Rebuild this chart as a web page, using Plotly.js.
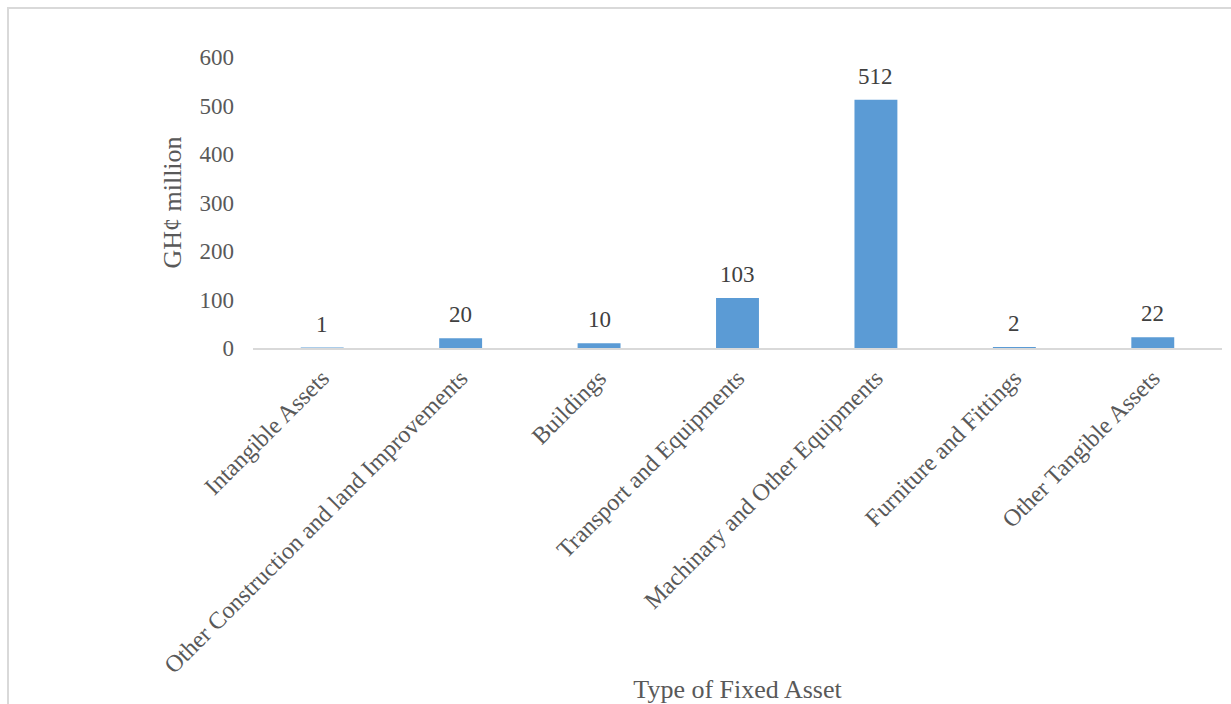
<!DOCTYPE html>
<html>
<head>
<meta charset="utf-8">
<script src="https://cdn.plot.ly/plotly-3.0.1.min.js"></script>
<style>
  html, body { margin: 0; padding: 0; background: #fff; }
  #wrap { position: relative; width: 1231px; height: 704px; overflow: hidden; }
  #frame { position: absolute; left: 7px; top: 7px; width: 1300px; height: 800px;
           border-left: 2px solid #D9D9D9; border-top: 2px solid #D9D9D9; pointer-events: none; }
  #chart { position: absolute; left: 0; top: 0; width: 1231px; height: 704px; }
</style>
</head>
<body>
<div id="wrap">
  <div id="chart"></div>
  <div id="frame"></div>
</div>
<script>
const categories = [
  "Intangible Assets",
  "Other Construction and land Improvements",
  "Buildings",
  "Transport and Equipments",
  "Machinary and Other Equipments",
  "Furniture and Fittings",
  "Other Tangible Assets"
];
const values = [1, 20, 10, 103, 512, 2, 22];
const yTicks = [0, 100, 200, 300, 400, 500, 600];

const serif = "'Liberation Serif', 'Times New Roman', serif";

const trace = {
  type: 'bar',
  x: categories,
  y: values,
  marker: { color: '#5B9BD5' },
  hoverinfo: 'skip'
};

const annotations = categories.map((c, i) => ({
  x: c,
  y: values[i],
  xref: 'x',
  yref: 'y',
  text: String(values[i]),
  showarrow: false,
  yanchor: 'bottom',
  yshift: 9,
  font: { family: serif, size: 23, color: '#404040' }
}));

const layout = {
  width: 1231,
  height: 704,
  margin: { l: 253, r: 9, t: 57, b: 356 },
  paper_bgcolor: '#ffffff',
  plot_bgcolor: '#ffffff',
  showlegend: false,
  bargap: 0.69,
  font: { family: serif, size: 23, color: '#595959' },
  xaxis: {
    type: 'category',
    tickangle: -45,
    showgrid: false,
    zeroline: false,
    showline: true,
    linecolor: '#D9D9D9',
    linewidth: 1.5,
    ticks: '',
    ticklabelstandoff: 5,
    tickfont: { family: serif, size: 24, color: '#595959' },
    automargin: false,
    title: {
      text: 'Type of Fixed Asset',
      font: { family: serif, size: 26, color: '#595959' },
      standoff: 16
    }
  },
  yaxis: {
    range: [0, 600],
    tickvals: yTicks,
    ticktext: yTicks.map(String),
    showgrid: false,
    zeroline: false,
    showline: false,
    ticks: '',
    ticklabelstandoff: 18,
    tickfont: { family: serif, size: 23, color: '#595959' },
    automargin: false,
    title: {
      text: 'GH¢ million',
      font: { family: serif, size: 26, color: '#595959' },
      standoff: 10
    }
  },
  annotations: annotations
};

Plotly.newPlot('chart', [trace], layout, { displayModeBar: false, staticPlot: true });
</script>
</body>
</html>
